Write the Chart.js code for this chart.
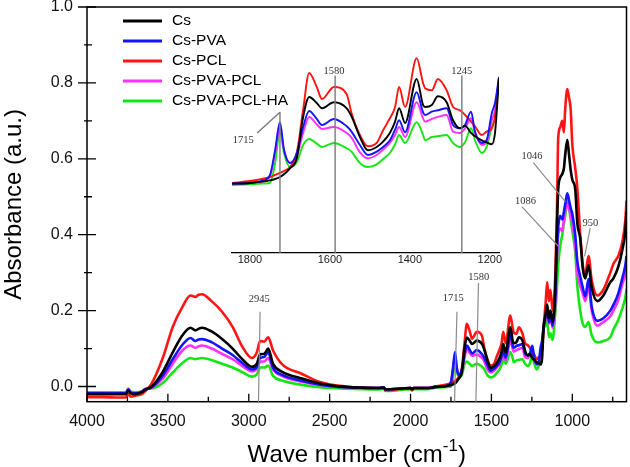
<html>
<head>
    <title>FTIR spectra</title>
    <script src="https://cdn.jsdelivr.net/npm/chart.js"></script>
    <style>
        body { margin: 0; background: #fff; }
        #wrap { position: relative; width: 630px; height: 467px; }
        #mainChart { position: absolute; left: 0; top: 0; }
        #insetChart { position: absolute; left: 200px; top: 30px; }
    </style>
</head>
<body>
    <div id="wrap">
        <canvas id="mainChart" width="630" height="467"></canvas>
        <canvas id="insetChart" width="320" height="245"></canvas>
    </div>

    <script>
        // wave numbers (cm-1), shared by every spectrum
        const waveNumbers = [4000, 3900, 3800, 3760, 3745, 3730, 3700, 3660, 3640, 3600,
            3530, 3470, 3410, 3360, 3330, 3310, 3290, 3230, 3165, 3100,
            3040, 2980, 2950, 2930, 2905, 2880, 2850, 2790, 2680, 2560,
            2400, 2200, 2165, 2155, 2000, 1990, 1980, 1900, 1845, 1800,
            1770, 1750, 1737, 1725, 1715, 1700, 1683, 1667, 1652, 1633,
            1620, 1590, 1558, 1546, 1525, 1505, 1483, 1467, 1450, 1437,
            1427, 1412, 1383, 1367, 1362, 1345, 1330, 1308, 1292, 1275,
            1262, 1247, 1237, 1220, 1208, 1195, 1187, 1177, 1165, 1155,
            1145, 1135, 1122, 1106, 1095, 1087, 1075, 1062, 1052, 1044,
            1031, 1020, 1010, 1000, 982, 969, 951, 935, 920, 900,
            880, 845, 808, 765, 746, 716, 691, 672, 665];

        const cs = [-0.02, -0.02, -0.02, -0.02, -0.01, -0.018, -0.02, -0.015, -0.008, 0.0,
            0.04, 0.09, 0.135, 0.155, 0.148, 0.152, 0.155, 0.145, 0.125, 0.1,
            0.072, 0.052, 0.06, 0.085, 0.086, 0.1, 0.06, 0.038, 0.022, 0.008,
            -0.001, -0.004, -0.003, -0.008, -0.004, -0.007, -0.004, -0.004, -0.001, 0.0,
            0.002, 0.004, 0.006, 0.009, 0.013, 0.022, 0.037, 0.099, 0.129, 0.12,
            0.112, 0.121, 0.112, 0.1, 0.069, 0.049, 0.054, 0.062, 0.075, 0.092,
            0.112, 0.09, 0.156, 0.117, 0.114, 0.117, 0.13, 0.121, 0.094, 0.082,
            0.086, 0.075, 0.07, 0.064, 0.061, 0.058, 0.075, 0.157, 0.19, 0.216,
            0.18, 0.2, 0.17, 0.25, 0.42, 0.52, 0.55, 0.56, 0.575, 0.61,
            0.65, 0.61, 0.57, 0.545, 0.52, 0.43, 0.39, 0.31, 0.285, 0.32,
            0.26, 0.225, 0.24, 0.275, 0.285, 0.315, 0.36, 0.41, 0.46];

        const csPva = [-0.018, -0.018, -0.018, -0.018, -0.008, -0.016, -0.018, -0.014, -0.008, -0.002,
            0.03, 0.072, 0.11, 0.128, 0.12, 0.124, 0.125, 0.117, 0.1, 0.083,
            0.062, 0.045, 0.052, 0.075, 0.078, 0.09, 0.05, 0.03, 0.016, 0.005,
            -0.002, -0.004, -0.002, -0.008, -0.004, -0.007, -0.004, -0.004, -0.001, 0.0,
            0.003, 0.012, 0.05, 0.091, 0.05, 0.03, 0.045, 0.084, 0.108, 0.096,
            0.087, 0.096, 0.085, 0.077, 0.057, 0.042, 0.047, 0.054, 0.064, 0.08,
            0.094, 0.076, 0.136, 0.106, 0.102, 0.107, 0.109, 0.112, 0.087, 0.082,
            0.087, 0.107, 0.077, 0.06, 0.064, 0.105, 0.12, 0.159, 0.185, 0.208,
            0.17, 0.19, 0.16, 0.23, 0.36, 0.42, 0.45, 0.44, 0.46, 0.48,
            0.509, 0.49, 0.47, 0.455, 0.40, 0.33, 0.29, 0.26, 0.237, 0.283,
            0.21, 0.173, 0.18, 0.2, 0.215, 0.245, 0.285, 0.32, 0.344];

        const csPcl = [-0.028, -0.028, -0.029, -0.029, -0.02, -0.027, -0.024, -0.02, -0.012, 0.008,
            0.077, 0.157, 0.21, 0.24, 0.236, 0.242, 0.243, 0.225, 0.197, 0.157,
            0.105, 0.075, 0.09, 0.12, 0.118, 0.13, 0.095, 0.057, 0.035, 0.012,
            0.0, -0.004, -0.003, -0.01, -0.004, -0.01, -0.004, -0.004, 0.0, 0.003,
            0.006, 0.009, 0.012, 0.015, 0.018, 0.024, 0.045, 0.11, 0.165, 0.144,
            0.126, 0.144, 0.133, 0.105, 0.072, 0.055, 0.06, 0.079, 0.097, 0.114,
            0.144, 0.114, 0.187, 0.15, 0.142, 0.139, 0.156, 0.139, 0.114, 0.109,
            0.102, 0.092, 0.085, 0.072, 0.077, 0.082, 0.099, 0.159, 0.22, 0.275,
            0.225, 0.255, 0.2, 0.283, 0.46, 0.656, 0.683, 0.70, 0.67, 0.73,
            0.784, 0.76, 0.73, 0.637, 0.576, 0.523, 0.40, 0.32, 0.295, 0.344,
            0.28, 0.24, 0.255, 0.3, 0.323, 0.344, 0.38, 0.44, 0.49];

        const csPvaPcl = [-0.017, -0.017, -0.017, -0.017, -0.006, -0.015, -0.017, -0.013, -0.007, -0.003,
            0.022, 0.06, 0.095, 0.108, 0.102, 0.106, 0.108, 0.1, 0.086, 0.072,
            0.054, 0.04, 0.046, 0.065, 0.066, 0.075, 0.045, 0.027, 0.013, 0.004,
            -0.002, -0.004, -0.003, -0.008, -0.004, -0.007, -0.004, -0.004, -0.001, 0.0,
            0.002, 0.01, 0.045, 0.082, 0.05, 0.03, 0.04, 0.075, 0.099, 0.088,
            0.081, 0.084, 0.075, 0.068, 0.046, 0.037, 0.042, 0.05, 0.06, 0.072,
            0.084, 0.069, 0.121, 0.097, 0.092, 0.096, 0.099, 0.102, 0.077, 0.075,
            0.082, 0.097, 0.075, 0.057, 0.061, 0.094, 0.109, 0.154, 0.178, 0.2,
            0.165, 0.185, 0.155, 0.21, 0.33, 0.40, 0.416, 0.41, 0.44, 0.46,
            0.483, 0.47, 0.45, 0.43, 0.375, 0.30, 0.265, 0.245, 0.225, 0.265,
            0.2, 0.16, 0.17, 0.185, 0.2, 0.228, 0.27, 0.295, 0.317];

        const csPvaPclHa = [-0.015, -0.015, -0.015, -0.015, -0.006, -0.013, -0.015, -0.012, -0.006, -0.005,
            0.01, 0.037, 0.062, 0.075, 0.072, 0.074, 0.075, 0.07, 0.06, 0.05,
            0.038, 0.026, 0.032, 0.05, 0.05, 0.055, 0.028, 0.015, 0.005, -0.002,
            -0.006, -0.008, -0.006, -0.012, -0.007, -0.01, -0.007, -0.007, -0.003, -0.002,
            -0.001, 0.0, 0.03, 0.078, 0.045, 0.024, 0.031, 0.057, 0.066, 0.059,
            0.054, 0.06, 0.052, 0.047, 0.03, 0.024, 0.028, 0.036, 0.045, 0.058,
            0.072, 0.06, 0.091, 0.072, 0.064, 0.069, 0.07, 0.072, 0.06, 0.054,
            0.061, 0.082, 0.064, 0.045, 0.054, 0.084, 0.099, 0.154, 0.16, 0.176,
            0.13, 0.14, 0.123, 0.19, 0.26, 0.32, 0.37, 0.40, 0.43, 0.45,
            0.488, 0.47, 0.44, 0.41, 0.355, 0.265, 0.2, 0.165, 0.157, 0.17,
            0.135, 0.116, 0.12, 0.13, 0.15, 0.175, 0.205, 0.235, 0.256];

        const seriesLabels = ['Cs', 'Cs-PVA', 'Cs-PCL', 'Cs-PVA-PCL', 'Cs-PVA-PCL-HA'];
        const seriesValues = [cs, csPva, csPcl, csPvaPcl, csPvaPclHa];
        const seriesColors = ['#000000', '#1414ff', '#ff1414', '#ff30ff', '#14e614'];

        const xTickValues = [4000, 3500, 3000, 2500, 2000, 1500, 1000];
        const yTickValues = [0.0, 0.2, 0.4, 0.6, 0.8, 1.0];
        const insetTickValues = [1800, 1600, 1400, 1200];

        // peak markers: label point and line segments, in data units
        const mainMarks = [
            { text: '2945', at: [2935, 0.230], lines: [[[2930, 0.197], [2940, -0.04]]] },
            { text: '1715', at: [1736, 0.232], lines: [[[1713, 0.197], [1728, -0.04]]] },
            { text: '1580', at: [1578, 0.288], lines: [[[1580, 0.273], [1596, -0.04]]] },
            { text: '1046', at: [1249, 0.606], lines: [[[1241, 0.590], [1043, 0.487]]] },
            { text: '1086', at: [1289, 0.488], lines: [[[1312, 0.474], [1085, 0.369]]] },
            { text: '950', at: [889, 0.430], lines: [[[889, 0.418], [924, 0.343]]] }
        ];
        const insetMarks = [
            { text: '1715', at: [1817, 0.064], lines: [[[1782, 0.075], [1725, 0.106]], [[1725, 0.106], [1725, -0.105]]] },
            { text: '1580', at: [1590, 0.168], lines: [[[1587, 0.161], [1587, -0.105]]] },
            { text: '1245', at: [1270, 0.168], lines: [[[1270, 0.161], [1270, -0.105]]] }
        ];

        const sansFont = 'Liberation Sans, Arial, sans-serif';
        const serifFont = 'Liberation Serif, Times New Roman, serif';

        function toPoints(values) {
            return waveNumbers.map((w, i) => ({ x: w, y: values[i] }));
        }

        function drawMarks(chart, marks, fontSize, lineColor, lineWidth) {
            const { ctx, scales: { x, y } } = chart;
            ctx.save();
            ctx.strokeStyle = lineColor;
            ctx.lineWidth = lineWidth;
            marks.forEach(m => {
                m.lines.forEach(seg => {
                    ctx.beginPath();
                    ctx.moveTo(x.getPixelForValue(seg[0][0]), y.getPixelForValue(seg[0][1]));
                    ctx.lineTo(x.getPixelForValue(seg[1][0]), y.getPixelForValue(seg[1][1]));
                    ctx.stroke();
                });
                ctx.fillStyle = '#333';
                ctx.font = fontSize + 'px ' + serifFont;
                ctx.textAlign = 'center';
                ctx.textBaseline = 'middle';
                ctx.fillText(m.text, x.getPixelForValue(m.at[0]), y.getPixelForValue(m.at[1]));
            });
            ctx.restore();
        }

        const frameAndTicks = {
            id: 'frameAndTicks',
            afterDraw(chart) {
                const { ctx, chartArea: a, scales: { x, y } } = chart;
                ctx.save();
                ctx.strokeStyle = '#000';
                ctx.lineWidth = 1.5;
                ctx.strokeRect(a.left, a.top, a.right - a.left, a.bottom - a.top);
                ctx.lineWidth = 1.3;
                ctx.beginPath();
                yTickValues.forEach((v, i) => {
                    const py = y.getPixelForValue(v);
                    ctx.moveTo(a.left - 9, py);
                    ctx.lineTo(a.left + 9, py);
                    if (i > 0) {
                        const pm = y.getPixelForValue((v + yTickValues[i - 1]) / 2);
                        ctx.moveTo(a.left - 3, pm);
                        ctx.lineTo(a.left + 5, pm);
                    }
                });
                xTickValues.forEach((v, i) => {
                    const px = x.getPixelForValue(v);
                    ctx.moveTo(px, a.bottom);
                    ctx.lineTo(px, a.bottom - 8);
                    const next = i < xTickValues.length - 1 ? xTickValues[i + 1] : v - 500;
                    const pm = x.getPixelForValue((v + next) / 2);
                    if (pm > a.left && pm < a.right) {
                        ctx.moveTo(pm, a.bottom);
                        ctx.lineTo(pm, a.bottom - 5);
                    }
                });
                ctx.stroke();

                // x axis title with superscript
                const cx = (a.left + a.right) / 2;
                const base = a.bottom + 60;
                ctx.fillStyle = '#000';
                ctx.textBaseline = 'alphabetic';
                ctx.textAlign = 'left';
                const big = '24px ' + sansFont, small = '17px ' + sansFont;
                ctx.font = big;
                const w1 = ctx.measureText('Wave number (cm').width;
                const w3 = ctx.measureText(')').width;
                ctx.font = small;
                const w2 = ctx.measureText('-1').width;
                let sx = cx - (w1 + w2 + w3) / 2;
                ctx.font = big;
                ctx.fillText('Wave number (cm', sx, base);
                ctx.font = small;
                ctx.fillText('-1', sx + w1, base - 11);
                ctx.font = big;
                ctx.fillText(')', sx + w1 + w2, base);

                // legend
                ctx.font = '15.5px ' + sansFont;
                ctx.textBaseline = 'middle';
                chart.data.datasets.forEach((ds, i) => {
                    const ly = 21 + 20 * i;
                    ctx.strokeStyle = ds.borderColor;
                    ctx.lineWidth = 3;
                    ctx.beginPath();
                    ctx.moveTo(123, ly);
                    ctx.lineTo(162, ly);
                    ctx.stroke();
                    ctx.fillStyle = '#000';
                    ctx.fillText(ds.label, 172, ly);
                });
                ctx.restore();

                drawMarks(chart, mainMarks, 10.5, '#8c8c8c', 1.2);
            }
        };

        const insetMarker = {
            id: 'insetMarker',
            afterDraw(chart) {
                drawMarks(chart, insetMarks, 10.5, '#7a7a7a', 1.4);
            }
        };

        new Chart(document.getElementById('mainChart'), {
            type: 'line',
            data: {
                datasets: seriesLabels.map((label, i) => ({
                    label: label,
                    data: toPoints(seriesValues[i]),
                    borderColor: seriesColors[i],
                    borderWidth: 2.6,
                    pointRadius: 0,
                    cubicInterpolationMode: 'monotone'
                }))
            },
            options: {
                responsive: false,
                animation: false,
                layout: { padding: { top: 7, right: 3.5, left: 0, bottom: 0 } },
                plugins: { legend: { display: false }, tooltip: { enabled: false } },
                scales: {
                    x: {
                        type: 'linear', reverse: true, min: 665, max: 4000,
                        afterBuildTicks: s => { s.ticks = xTickValues.map(v => ({ value: v })); },
                        afterFit: s => { s.height = 65.3; s.paddingLeft = 0; s.paddingRight = 0; },
                        grid: { display: false, drawTicks: false },
                        border: { display: false },
                        ticks: { padding: 10, color: '#111', autoSkip: false, maxRotation: 0,
                                 font: { family: sansFont, size: 16 }, callback: v => String(v) }
                    },
                    y: {
                        min: -0.04, max: 1.0,
                        afterBuildTicks: s => { s.ticks = yTickValues.map(v => ({ value: v })); },
                        afterFit: s => { s.width = 87; s.paddingTop = 0; s.paddingBottom = 0; },
                        grid: { display: false, drawTicks: false },
                        border: { display: false },
                        ticks: { padding: 14, color: '#111', font: { family: sansFont, size: 16 },
                                 callback: v => v.toFixed(1) },
                        title: { display: true, text: 'Absorbance (a.u.)', color: '#000', padding: 0,
                                 font: { family: sansFont, size: 24 } }
                    }
                }
            },
            plugins: [frameAndTicks]
        });

        new Chart(document.getElementById('insetChart'), {
            type: 'line',
            data: {
                datasets: seriesLabels.map((label, i) => ({
                    label: label,
                    data: toPoints(seriesValues[i]).filter(p => p.x >= 1177 && p.x <= 1845),
                    borderColor: seriesColors[i],
                    borderWidth: 1.9,
                    pointRadius: 0,
                    cubicInterpolationMode: 'monotone'
                }))
            },
            options: {
                responsive: false,
                animation: false,
                layout: { padding: { left: 32, right: 21, top: 10, bottom: 0 } },
                plugins: { legend: { display: false }, tooltip: { enabled: false } },
                scales: {
                    x: {
                        type: 'linear', reverse: true, min: 1177, max: 1845,
                        afterBuildTicks: s => { s.ticks = insetTickValues.map(v => ({ value: v })); },
                        afterFit: s => { s.height = 22; s.paddingLeft = 0; s.paddingRight = 0; },
                        grid: { display: false, drawTicks: false },
                        border: { display: true, color: '#000', width: 1.3 },
                        ticks: { padding: 0, color: '#222', autoSkip: false, maxRotation: 0,
                                 font: { family: sansFont, size: 11 }, callback: v => String(v) }
                    },
                    y: { display: false, min: -0.105, max: 0.2144 }
                }
            },
            plugins: [insetMarker]
        });
    </script>
</body>
</html>
